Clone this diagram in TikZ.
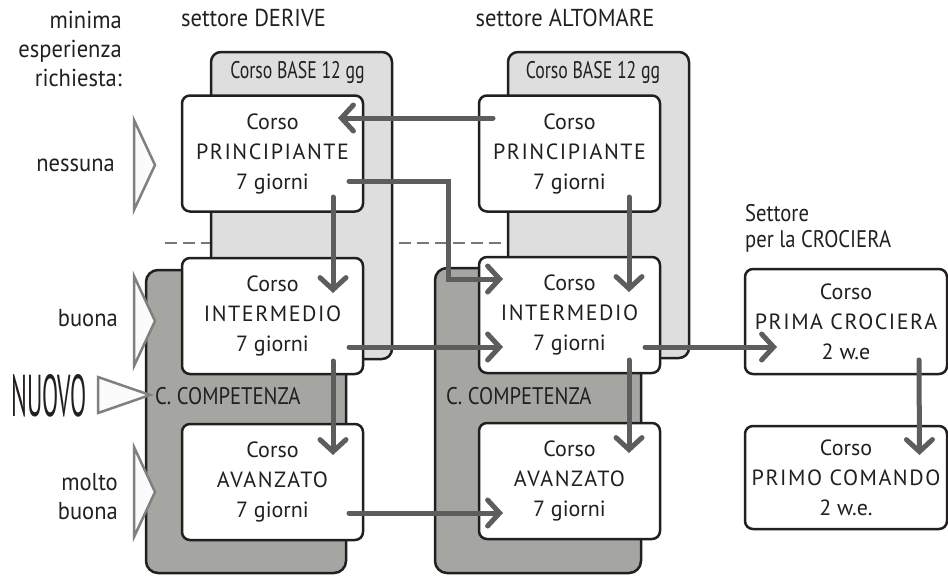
\documentclass[tikz,border=0pt]{standalone}
\usepackage{fontspec}
\setmainfont{PT Sans}
\newfontfamily\condf[FakeStretch=0.92]{PT Sans}
\newfontfamily\capcondf[FakeStretch=0.86]{PT Sans}
\newfontfamily\basef[FakeStretch=0.74]{PT Sans}
\newfontfamily\nuovof[FakeStretch=0.4]{PT Sans}
\newfontfamily\capsf[LetterSpace=7]{PT Sans}
\usetikzlibrary{arrows.meta,calc}
\definecolor{outl}{HTML}{231F20}
\definecolor{lgray}{HTML}{DEDEDE}
\definecolor{dgray}{HTML}{A5A5A1}
\definecolor{arrc}{HTML}{5E5C5C}
\definecolor{tric}{HTML}{808080}
\definecolor{trifill}{HTML}{FBFBFB}
\definecolor{dashc}{HTML}{777777}
\begin{document}
\begin{tikzpicture}[x=1pt,y=-1pt,
  lbl/.style={font=\condf\fontsize{24.5}{29}\selectfont, inner sep=0pt, text=outl},
  caplbl/.style={font=\capcondf\fontsize{24}{26}\selectfont, inner sep=0pt, text=outl},
  baselbl/.style={font=\basef\fontsize{24}{26}\selectfont, inner sep=0pt, text=outl},
  box/.style={draw=outl, line width=2.5pt, fill=white, rounded corners=8pt,
    minimum width=181pt, minimum height=116pt, align=center, inner sep=0pt,
    text=outl, font=\fontsize{22}{30}\selectfont},
  backlight/.style={draw=outl, line width=2.5pt, fill=lgray, rounded corners=10pt},
  backdark/.style={draw=outl, line width=2.5pt, fill=dgray, rounded corners=12pt},
  tri/.style={draw=tric, line width=2.5pt, fill=trifill, line join=miter},
  arr/.style={draw=arrc, line width=5pt, line cap=round,
    -{Straight Barb[length=12pt, width=26pt, line cap=round]}},
  sepline/.style={draw=dashc, line width=2pt, dash pattern=on 12pt off 6pt}
]
\useasboundingbox (0,0) rectangle (948,576);

% dashed separator
\draw[sepline] (165,243) -- (507,243);

% backdrops
\draw[backlight] (211,52) rectangle (392,359);
\draw[backlight] (508,52) rectangle (689,358);
\draw[backdark] (146,270) rectangle (346,573);
\draw[backdark] (435,268) rectangle (641,573);

% headers and labels
\node[lbl, anchor=east, align=right] (minlab) at (122,49) {minima\\esperienza\\richiesta:};
\node[lbl] (sd) at (253.5,18) {settore DERIVE};
\node[lbl] (sa) at (565,18) {settore ALTOMARE};
\node[baselbl] (bd) at (297.5,72) {Corso BASE 12 gg};
\node[baselbl] (ba) at (593,72) {Corso BASE 12 gg};
\node[caplbl, anchor=west] (cd) at (155,396) {C. COMPETENZA};
\node[caplbl, anchor=west] (ca) at (446,396) {C. COMPETENZA};
\node[lbl, anchor=east] (l1) at (115,165) {nessuna};
\node[lbl, anchor=east] (l2) at (118,318) {buona};
\node[lbl, anchor=east, align=right] (l3) at (118,497) {molto\\buona};
\node[caplbl, anchor=west, align=left] (sc) at (745,228) {Settore\\per la CROCIERA};
\node[inner sep=0pt, text=outl, font=\nuovof\fontsize{59}{59}\selectfont] (nuovo) at (49,396) {NUOVO};

% triangles
\draw[tri] (134,120) -- (155,165) -- (134,210) -- cycle;
\draw[tri] (134,276) -- (155,321) -- (134,366) -- cycle;
\draw[tri] (134,447) -- (155,492) -- (134,537) -- cycle;
\draw[tri] (98,377) -- (150,395) -- (98,413) -- cycle;

% course boxes
\node[box] (dp) at (272.5,153.5) {Corso\\{\capsf PRINCIPIANTE}\\7 giorni};
\node[box] (di) at (272.5,316) {Corso\\{\capsf INTERMEDIO}\\7 giorni};
\node[box] (da) at (272.5,482) {Corso\\{\capsf AVANZATO}\\7 giorni};
\node[box] (ap) at (569.5,153.5) {Corso\\{\capsf PRINCIPIANTE}\\7 giorni};
\node[box] (ai) at (569.5,315) {Corso\\{\capsf INTERMEDIO}\\7 giorni};
\node[box] (aa) at (569.5,481) {Corso\\{\capsf AVANZATO}\\7 giorni};
\node[box, minimum width=202pt, minimum height=105pt] (pc) at (846,321.5) {Corso\\{\capsf PRIMA CROCIERA}\\2 w.e};
\node[box, minimum width=202pt, minimum height=103pt] (pm) at (846,477.5) {Corso\\{\capsf PRIMO COMANDO}\\2 w.e.};

% arrows
\draw[arr] ($(ap.center)+(-76.5,-35.5)$) -- ($(dp.center)+(65.5,-35.5)$);
\draw[arr] ($(dp.center)+(76.5,27.5)$) -| ($(ai.center)+(-121.5,-36)$) -- ($(ai.center)+(-66.5,-36)$);
\draw[arr] ($(dp.center)+(60.5,43.5)$) -- ($(di.center)+(60.5,-23)$);
\draw[arr] ($(di.center)+(76.5,31)$) -- ($(ai.center)+(-66.5,32)$);
\draw[arr] ($(di.center)+(60.5,45)$) -- ($(da.center)+(60.5,-27)$);
\draw[arr] ($(da.center)+(76.5,31)$) -- ($(aa.center)+(-66.5,32)$);
\draw[arr] ($(ap.center)+(59.5,43.5)$) -- ($(ai.center)+(59.5,-23)$);
\draw[arr] ($(ai.center)+(75.5,32)$) -- ($(pc.center)+(-69,25.5)$);
\draw[arr] ($(ai.center)+(59.5,45)$) -- ($(aa.center)+(59.5,-28)$);
\draw[arr] ($(pc.center)+(73,38.5)$) -- ($(pm.center)+(73.5,-22.5)$);
\end{tikzpicture}
\end{document}
